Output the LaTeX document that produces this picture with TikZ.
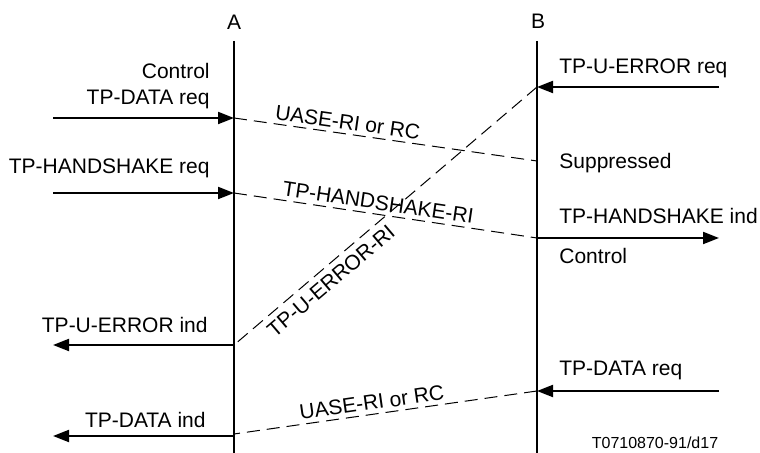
\documentclass[tikz,border=0pt]{standalone}
\usepackage{fontspec}
\setmainfont{Liberation Sans}
\usetikzlibrary{arrows.meta}
\begin{document}
\begin{tikzpicture}[x=0.5pt,y=-0.5pt,
  every node/.style={font=\fontsize{10.5}{12.5}\selectfont, inner sep=1pt},
  life/.style={line width=1pt},
  prim/.style={line width=1pt,-{Triangle[length=8pt,width=6pt]}},
  pdu/.style={line width=0.5pt,dash pattern=on 6.5pt off 3.5pt},
  lbl/.style={sloped,inner sep=2pt}]
\useasboundingbox (0,0) rectangle (760,453);
% lifelines
\node (A) at (234,22) {A};
\node (B) at (538,21) {B};
\coordinate (Atop) at (234,41);
\coordinate (Abot) at (234,453);
\coordinate (Btop) at (537,41);
\coordinate (Bbot) at (537,453);
\draw[life] (Atop) -- (Abot);
\draw[life] (Btop) -- (Bbot);
% points
\coordinate (l1) at (53,118);  \coordinate (a1) at (234,118);
\coordinate (l2) at (53,193);  \coordinate (a2) at (234,193);
\coordinate (r1) at (719,87);  \coordinate (b1) at (537,87);
\coordinate (b2) at (537,161);
\coordinate (b3) at (537,238); \coordinate (r3) at (719,238);
\coordinate (a3) at (234,345); \coordinate (l3) at (53,345);
\coordinate (r4) at (719,391); \coordinate (b4) at (537,391);
\coordinate (a4) at (234,434); \coordinate (l4) at (53,436);
\coordinate (a4b) at (234,436);
% primitives
\draw[prim] (l1) -- (a1);
\draw[prim] (l2) -- (a2);
\draw[prim] (r1) -- (b1);
\draw[prim] (b3) -- (r3);
\draw[prim] (a3) -- (l3);
\draw[prim] (r4) -- (b4);
\draw[prim] (a4b) -- (l4);
% PDUs
\draw[pdu] (a1) -- node[lbl,above,pos=0.37] (m1) {UASE-RI or RC} (b2);
\draw[pdu] (a2) -- node[lbl,above,pos=0.47] (m2) {TP-HANDSHAKE-RI} (b3);
\draw[pdu] (b1) -- node[lbl,below,pos=0.71,inner sep=3pt] (m3) {TP-U-ERROR-RI} (a3);
\draw[pdu] (b4) -- node[lbl,above,pos=0.54] (m4) {UASE-RI or RC} (a4);
% left labels
\node[anchor=east] (t1) at (212,71) {Control};
\node[anchor=east] (t2) at (212,99) {TP-DATA req};
\node[anchor=east] (t3) at (212,168) {TP-HANDSHAKE req};
\node[anchor=east] (t4) at (210,325) {TP-U-ERROR ind};
\node[anchor=east] (t5) at (208,420) {TP-DATA ind};
% right labels
\node[anchor=west] (s1) at (557,68) {TP-U-ERROR req};
\node[anchor=west] (s2) at (557,163) {Suppressed};
\node[anchor=west] (s3) at (557,216) {TP-HANDSHAKE ind};
\node[anchor=west] (s4) at (557,256) {Control};
\node[anchor=west] (s5) at (557,370) {TP-DATA req};
\node[font=\fontsize{8}{10}\selectfont] (fig) at (655,443) {T0710870-91/d17};
\end{tikzpicture}
\end{document}
